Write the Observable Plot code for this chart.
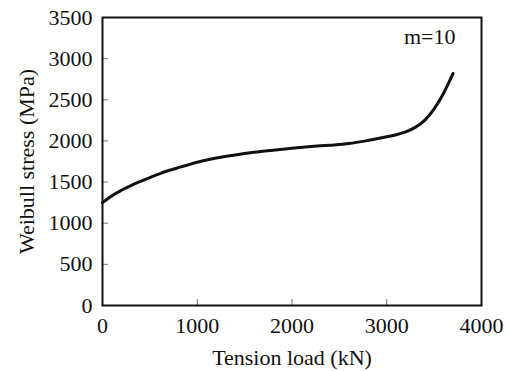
<!DOCTYPE html>
<html>
<head>
<meta charset="utf-8">
<script src="https://cdn.jsdelivr.net/npm/d3@7"></script>
<script src="https://cdn.jsdelivr.net/npm/@observablehq/plot@0.6"></script>
<style>
  html, body { margin: 0; padding: 0; background: #fff; }
  #chart svg { font-family: "Liberation Serif", "Times New Roman", serif; }
</style>
</head>
<body>
<div id="chart"></div>
<script>
const load = [0, 100, 200, 300, 400, 500, 600, 700, 800, 900, 1000, 1200, 1400, 1600, 1800, 2000, 2200, 2400, 2600, 2800, 3000, 3100, 3200, 3300, 3400, 3500, 3600, 3700];
const stress = [1250, 1335, 1400, 1458, 1508, 1555, 1600, 1640, 1675, 1708, 1740, 1792, 1830, 1862, 1888, 1912, 1932, 1948, 1968, 2005, 2050, 2075, 2110, 2165, 2250, 2390, 2580, 2820];
const xTicks = [0, 1000, 2000, 3000, 4000];
const yTicks = [0, 500, 1000, 1500, 2000, 2500, 3000, 3500];
const annotation = ["m=10"];
const xLabel = ["Tension load (kN)"];
const yLabel = ["Weibull stress (MPa)"];

const data = load.map((x, i) => ({x, y: stress[i]}));

const chart = Plot.plot({
  width: 510,
  height: 371,
  marginLeft: 102,
  marginRight: 29,
  marginTop: 17,
  marginBottom: 66,
  style: {fontFamily: '"Liberation Serif", "Times New Roman", serif', fontSize: "22px", color: "#111", background: "#fff"},
  x: {domain: [0, 4000]},
  y: {domain: [0, 3500]},
  marks: [
    Plot.axisX({ticks: xTicks, tickSize: -6, tickPadding: 18, stroke: "#777", fill: "#111", fontSize: 22, tickFormat: d => String(d), label: null}),
    Plot.axisY({ticks: yTicks, tickSize: -6, tickPadding: 16, stroke: "#777", fill: "#111", fontSize: 22, tickFormat: d => String(d), label: null}),
    Plot.frame({stroke: "#111", strokeWidth: 2}),
    Plot.line(data, {x: "x", y: "y", curve: "monotone-x", stroke: "#111", strokeWidth: 3}),
    Plot.text(annotation, {text: d => d, frameAnchor: "top-right", dx: -26, dy: 11, textAnchor: "end", lineAnchor: "top", fontSize: 22, fill: "#111"}),
    Plot.text(xLabel, {text: d => d, frameAnchor: "bottom", dy: 52, textAnchor: "middle", lineAnchor: "middle", fontSize: 22, fill: "#111"}),
    Plot.text(yLabel, {text: d => d, frameAnchor: "left", dx: -76, rotate: -90, textAnchor: "middle", lineAnchor: "middle", fontSize: 22, fill: "#111"})
  ]
});
document.getElementById("chart").appendChild(chart);
</script>
</body>
</html>
